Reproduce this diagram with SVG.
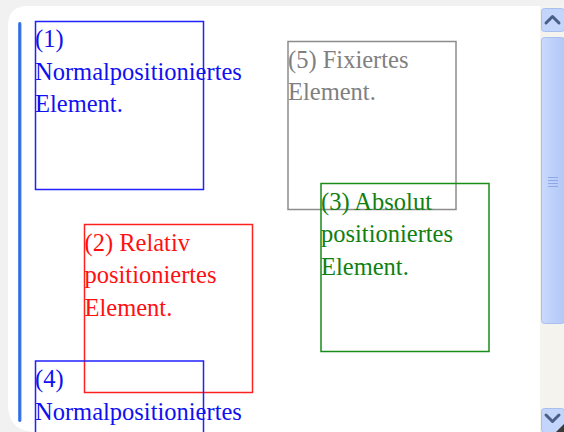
<svg xmlns="http://www.w3.org/2000/svg" width="564" height="432" viewBox="0 0 564 432">
  <style>
    .box { fill: none; stroke-width: 1.5; }
    .t { font-family: "Liberation Serif", "Times New Roman", serif; font-size: 24.5px; }
    .blue { stroke: #2020ff; }
    .red { stroke: #ff2020; }
    .green { stroke: #1a8c1a; }
    .grey { stroke: #8c8c8c; }
    .tblue { fill: #1010f0; }
    .tred { fill: #ff1010; }
    .tgreen { fill: #108010; }
    .tgrey { fill: #808080; }
    .btn { fill: #c3d5fb; stroke: #a9bff0; stroke-width: 1; }
    .chev { fill: none; stroke: #4a5f86; stroke-width: 3; stroke-linecap: round; stroke-linejoin: round; }
  </style>
  <defs>
    <linearGradient id="bar" x1="0" y1="0" x2="1" y2="0">
      <stop offset="0" stop-color="#6a9cf0"/>
      <stop offset="0.5" stop-color="#1f63e6"/>
      <stop offset="1" stop-color="#5b90ee"/>
    </linearGradient>
    <linearGradient id="thumb" x1="0" y1="0" x2="1" y2="0">
      <stop offset="0" stop-color="#cbdafc"/>
      <stop offset="0.5" stop-color="#bcd0fa"/>
      <stop offset="1" stop-color="#b3c8f6"/>
    </linearGradient>
    <clipPath id="view"><rect x="0" y="0" width="540" height="432"/></clipPath>
  </defs>

  <!-- window frame -->
  <rect x="0" y="0" width="564" height="432" fill="#f1f1f1"/>
  <path d="M28 6 H564 V432 H36 Q8 432 8 404 V26 Q8 6 28 6 Z" fill="#ffffff"/>
  <rect x="18" y="22" width="3.5" height="400" rx="1.75" fill="url(#bar)"/>

  <g clip-path="url(#view)">
    <g id="node-1">
      <rect class="box blue" x="35.5" y="21.5" width="168" height="168"/>
      <text class="t tblue" x="35" y="47">(1)</text>
      <text class="t tblue" x="35" y="79.5">Normalpositioniertes</text>
      <text class="t tblue" x="35" y="112">Element.</text>
    </g>
    <g id="node-5">
      <rect class="box grey" x="288" y="41.5" width="168" height="168"/>
      <text class="t tgrey" x="288" y="67.5">(5) Fixiertes</text>
      <text class="t tgrey" x="288" y="100">Element.</text>
    </g>
    <g id="node-3">
      <rect class="box green" x="321" y="183.5" width="168" height="168"/>
      <text class="t tgreen" x="321" y="209.5">(3) Absolut</text>
      <text class="t tgreen" x="321" y="242">positioniertes</text>
      <text class="t tgreen" x="321" y="274.5">Element.</text>
    </g>
    <g id="node-2">
      <rect class="box red" x="84.5" y="224.5" width="168" height="168"/>
      <text class="t tred" x="84.5" y="250.5">(2) Relativ</text>
      <text class="t tred" x="84.5" y="283">positioniertes</text>
      <text class="t tred" x="84.5" y="315.5">Element.</text>
    </g>
    <g id="node-4">
      <rect class="box blue" x="35.5" y="361" width="168" height="168"/>
      <text class="t tblue" x="35" y="387">(4)</text>
      <text class="t tblue" x="35" y="419.5">Normalpositioniertes</text>
    </g>
  </g>

  <g id="connectors"></g>

  <!-- scrollbar -->
  <g id="scrollbar">
    <rect x="540" y="6" width="24" height="426" fill="#f4f3ee"/>
    <rect class="btn" x="541.5" y="8.5" width="23" height="23" rx="3"/>
    <path class="chev" d="M546 23 L552.5 16.5 L559 23"/>
    <rect x="541.5" y="37.5" width="23" height="286" rx="3" fill="url(#thumb)" stroke="#a9bff0"/>
    <g stroke="#8fa9e6" stroke-width="1">
      <line x1="548" y1="177.5" x2="558" y2="177.5"/>
      <line x1="548" y1="180.5" x2="558" y2="180.5"/>
      <line x1="548" y1="183.5" x2="558" y2="183.5"/>
      <line x1="548" y1="186.5" x2="558" y2="186.5"/>
    </g>
    <rect class="btn" x="541.5" y="408.5" width="23" height="24" rx="3"/>
    <path class="chev" d="M546 415 L552.5 421.5 L559 415"/>
    <path d="M564 424 L564 432 L556 432 Z" fill="#3a3a3a"/>
  </g>
</svg>
